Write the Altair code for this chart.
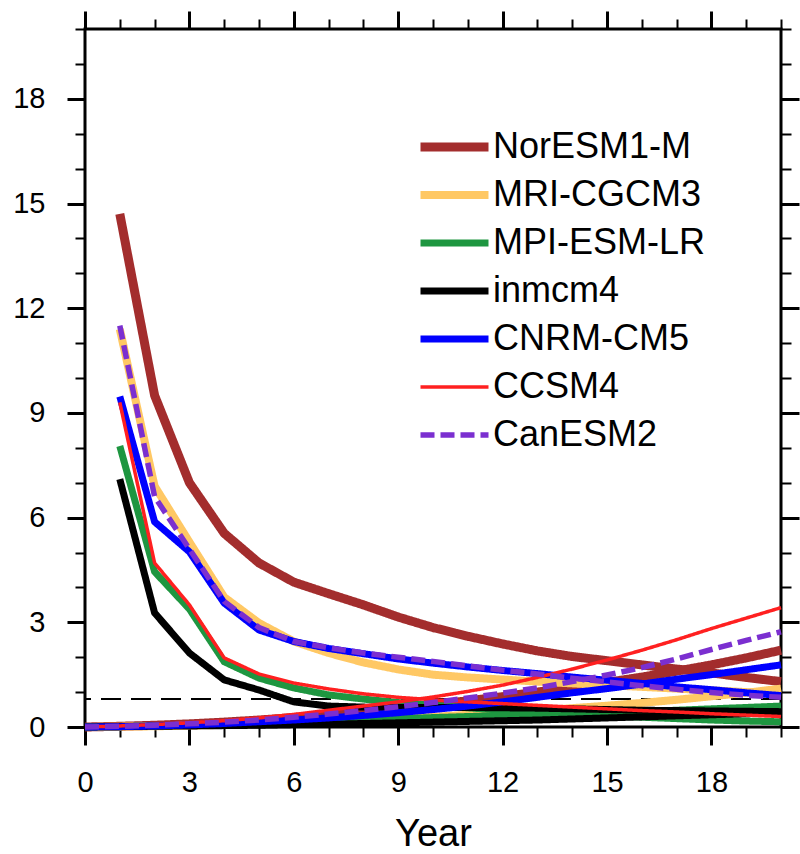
import altair as alt
import pandas as pd

models = ["NorESM1-M", "MRI-CGCM3", "MPI-ESM-LR", "inmcm4", "CNRM-CM5", "CCSM4", "CanESM2"]
colors = ["#A32D2D", "#FFC864", "#1E9640", "#000000", "#0000FF", "#FF2020", "#7B2FD0"]
widths = [9, 8, 7, 7, 7, 3.5, 5.5]
dashes = [[1, 0], [1, 0], [1, 0], [1, 0], [1, 0], [1, 0], [14, 6]]

decay_years = list(range(1, 21))
rise_years = list(range(0, 21))

# decaying curves (years 1..20)
nor_decay = [14.7, 9.5, 7.0, 5.55, 4.7, 4.15, 3.82, 3.5, 3.15, 2.85, 2.6, 2.38, 2.18, 2.02, 1.9, 1.78, 1.66, 1.55, 1.42, 1.3]
mri_decay = [11.4, 6.9, 5.3, 3.72, 2.98, 2.45, 2.12, 1.85, 1.65, 1.5, 1.42, 1.36, 1.3, 1.25, 1.2, 1.15, 1.1, 1.05, 1.0, 0.95]
mpi_decay = [8.05, 4.45, 3.38, 1.87, 1.4, 1.12, 0.92, 0.8, 0.7, 0.62, 0.55, 0.48, 0.42, 0.37, 0.32, 0.28, 0.24, 0.2, 0.17, 0.15]
inm_decay = [7.1, 3.27, 2.12, 1.35, 1.06, 0.72, 0.6, 0.57, 0.56, 0.56, 0.56, 0.55, 0.54, 0.52, 0.5, 0.48, 0.47, 0.46, 0.45, 0.44]
cnrm_decay = [9.47, 5.88, 5.02, 3.55, 2.78, 2.45, 2.25, 2.1, 1.95, 1.83, 1.72, 1.62, 1.53, 1.43, 1.34, 1.25, 1.15, 1.07, 0.98, 0.9]
ccsm_decay = [9.3, 4.7, 3.5, 1.98, 1.52, 1.26, 1.09, 0.95, 0.85, 0.78, 0.72, 0.67, 0.62, 0.57, 0.52, 0.47, 0.43, 0.38, 0.34, 0.3]
can_decay = [11.5, 6.6, 5.1, 3.6, 2.85, 2.45, 2.27, 2.12, 2.0, 1.88, 1.75, 1.63, 1.52, 1.4, 1.29, 1.18, 1.08, 0.99, 0.91, 0.85]

# rising curves (years 0..20)
nor_rise = [0, 0.02, 0.05, 0.09, 0.14, 0.2, 0.27, 0.35, 0.44, 0.54, 0.64, 0.75, 0.87, 1.0, 1.14, 1.28, 1.43, 1.6, 1.78, 1.98, 2.2]
mri_rise = [0, 0.01, 0.02, 0.04, 0.06, 0.09, 0.12, 0.15, 0.19, 0.24, 0.29, 0.35, 0.41, 0.47, 0.54, 0.61, 0.69, 0.78, 0.88, 0.98, 1.1]
mpi_rise = [0, 0.01, 0.03, 0.05, 0.07, 0.1, 0.13, 0.16, 0.2, 0.24, 0.27, 0.3, 0.33, 0.36, 0.39, 0.42, 0.45, 0.48, 0.52, 0.56, 0.6]
inm_rise = [0, 0.01, 0.02, 0.03, 0.04, 0.05, 0.07, 0.08, 0.1, 0.12, 0.14, 0.16, 0.18, 0.2, 0.23, 0.26, 0.29, 0.32, 0.35, 0.38, 0.41]
cnrm_rise = [0, 0.01, 0.03, 0.06, 0.1, 0.15, 0.2, 0.26, 0.33, 0.41, 0.5, 0.6, 0.72, 0.85, 0.98, 1.1, 1.23, 1.37, 1.5, 1.64, 1.78]
ccsm_rise = [0, 0.03, 0.07, 0.12, 0.18, 0.26, 0.36, 0.48, 0.6, 0.72, 0.86, 1.02, 1.2, 1.42, 1.66, 1.92, 2.2, 2.5, 2.82, 3.12, 3.42]
can_rise = [0, 0.02, 0.05, 0.09, 0.14, 0.2, 0.28, 0.37, 0.47, 0.58, 0.7, 0.83, 0.97, 1.12, 1.3, 1.49, 1.7, 1.95, 2.22, 2.48, 2.73]

threshold = [0.8]

decays = [nor_decay, mri_decay, mpi_decay, inm_decay, cnrm_decay, ccsm_decay, can_decay]
rises = [nor_rise, mri_rise, mpi_rise, inm_rise, cnrm_rise, ccsm_rise, can_rise]

rows = []
for m, d, r in zip(models, decays, rises):
    for yr, v in zip(decay_years, d):
        rows.append({"model": m, "kind": "decay", "year": yr, "value": v})
    for yr, v in zip(rise_years, r):
        rows.append({"model": m, "kind": "rise", "year": yr, "value": v})
df = pd.DataFrame(rows)

FONT = "Liberation Sans"
major_x = [0, 3, 6, 9, 12, 15, 18]
minor_x = list(range(0, 21))
major_y = [0, 3, 6, 9, 12, 15, 18]
minor_y = list(range(0, 21))

xscale = alt.Scale(domain=[0, 20], nice=False, zero=False)
yscale = alt.Scale(domain=[0, 20], nice=False, zero=False)

legend = alt.Legend(
    title=None, orient="none", legendX=331, legendY=100,
    symbolType="stroke", symbolSize=4624, labelFontSize=36, labelFont=FONT,
    labelColor="black", clipHeight=36, rowPadding=12, labelOffset=0,
    padding=0, labelLimit=400,
)


def ax(orient, values, size, width, labels=False, title=None, **kw):
    return alt.Axis(
        orient=orient, values=values, tickSize=size, tickWidth=width,
        tickColor="black", labels=labels, title=title, grid=False, domain=False,
        **kw,
    )


lines = alt.Chart(df).mark_line(strokeCap="butt", strokeJoin="round").encode(
    x=alt.X("year:Q", scale=xscale, axis=ax(
        "bottom", major_x, 18, 3, labels=True, title="Year",
        labelFontSize=29, labelFont=FONT, labelColor="black", labelPadding=23,
        labelFlush=False,
        titleFontSize=38, titleFont=FONT, titleColor="black",
        titleFontWeight="normal", titlePadding=18)),
    y=alt.Y("value:Q", scale=yscale, axis=ax(
        "left", major_y, 18, 3, labels=True, labelFlush=False,
        labelFontSize=29, labelFont=FONT, labelColor="black", labelPadding=22)),
    color=alt.Color("model:N", scale=alt.Scale(domain=models, range=colors), legend=legend),
    strokeWidth=alt.StrokeWidth("model:N", scale=alt.Scale(type="ordinal", domain=models, range=widths), legend=legend),
    strokeDash=alt.StrokeDash("model:N", scale=alt.Scale(domain=models, range=dashes), legend=legend),
    detail="kind:N",
)

hline = alt.Chart(pd.DataFrame({"thr": threshold})).mark_rule(
    color="black", strokeWidth=2, strokeDash=[20, 10]
).encode(y=alt.Y("thr:Q", scale=yscale, axis=None))

frame_df = pd.DataFrame({"year": [0, 20], "value": [0, 20]})


def carrier(xa, ya):
    return alt.Chart(frame_df).mark_point(opacity=0).encode(
        x=alt.X("year:Q", scale=xscale, axis=xa),
        y=alt.Y("value:Q", scale=yscale, axis=ya),
    )


minor_bl = carrier(ax("bottom", minor_x, 10, 2), ax("left", minor_y, 10, 2))
major_tr = carrier(ax("top", major_x, 18, 3), ax("right", major_y, 18, 3))
minor_tr = carrier(ax("top", minor_x, 10, 2), ax("right", minor_y, 10, 2))

chart = alt.layer(hline, lines, minor_bl, major_tr, minor_tr).resolve_axis(
    x="independent", y="independent"
).properties(
    width=696, height=698,
    autosize=alt.AutoSizeParams(type="none"),
    padding={"left": 85, "top": 29, "right": 19, "bottom": 127},
).configure(font=FONT, background="white").configure_view(stroke="black", strokeWidth=3)

chart.save("out.html", embed_options={"renderer": "svg", "actions": False})
